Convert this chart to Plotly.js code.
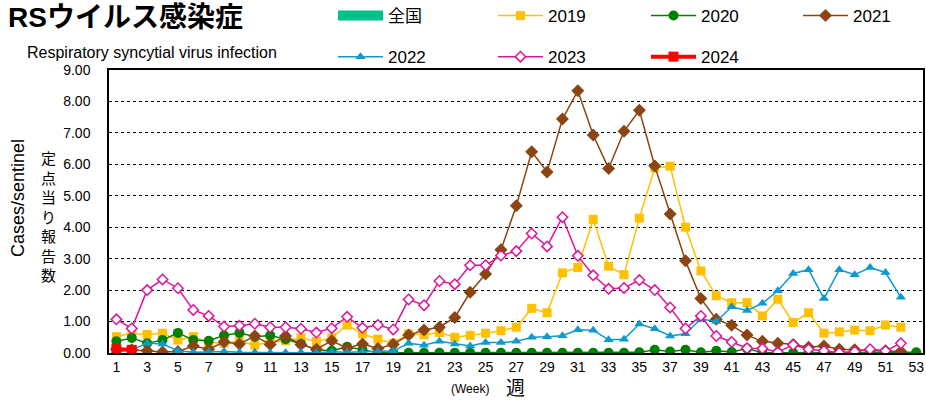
<!DOCTYPE html>
<html>
<head>
<meta charset="utf-8">
<script src="https://cdn.plot.ly/plotly-3.0.1.min.js"></script>
<style>
  html, body { margin: 0; padding: 0; background: #fff; }
  #chart { width: 926px; height: 403px; }
</style>
</head>
<body>
<div id="chart"></div>
<script>
// weekly cases per sentinel
const weeks = Array.from({length: 53}, (_, i) => i + 1);
const tickWeeks = [1, 3, 5, 7, 9, 11, 13, 15, 17, 19, 21, 23, 25, 27, 29, 31, 33, 35, 37, 39, 41, 43, 45, 47, 49, 51, 53];

const y2019 = [0.52, 0.63, 0.59, 0.63, 0.41, 0.52, 0.33, 0.31, 0.37, 0.25,
               0.35, 0.39, 0.48, 0.37, 0.48, 0.89, 0.61, 0.44, 0.31, 0.61,
               0.58, 0.65, 0.50, 0.56, 0.63, 0.71, 0.82, 1.42, 1.28, 2.55,
               2.72, 4.25, 2.76, 2.49, 4.29, 5.89, 5.94, 4.00, 2.61, 1.82,
               1.60, 1.60, 1.18, 1.71, 0.97, 1.28, 0.63, 0.67, 0.73, 0.71, 0.89, 0.82];
const y2020 = [0.37, 0.48, 0.31, 0.41, 0.64, 0.41, 0.39, 0.56, 0.64, 0.52,
               0.56, 0.44, 0.29, 0.10, 0.07, 0.20, 0.10, 0.01, 0.01, 0.01,
               0.01, 0.01, 0.01, 0.01, 0.01, 0.01, 0.01, 0.01, 0.01, 0.01,
               0.01, 0.01, 0.01, 0.01, 0.02, 0.10, 0.05, 0.10, 0.02, 0.07,
               0.03, 0.14, 0.01, 0.01, 0.01, 0.01, 0.01, 0.01, 0.01, 0.01, 0.01, 0.01, 0.02];
const y2021 = [0.12, 0.10, 0.07, 0.03, 0.05, 0.22, 0.12, 0.35, 0.29, 0.54,
               0.27, 0.54, 0.27, 0.12, 0.39, 0.15, 0.29, 0.14, 0.28, 0.57,
               0.73, 0.82, 1.13, 1.93, 2.51, 3.28, 4.68, 6.40, 5.76, 7.44,
               8.34, 6.93, 5.87, 7.05, 7.72, 5.95, 4.42, 2.93, 1.73, 1.07,
               0.88, 0.57, 0.37, 0.31, 0.27, 0.18, 0.22, 0.12, 0.10, 0.09, 0.07, 0.05];
const y2022 = [0.04, 0.10, 0.31, 0.29, 0.07, 0.02, 0.03, 0.05, 0.02, 0.02,
               0.01, 0.01, 0.02, 0.01, 0.04, 0.02, 0.04, 0.04, 0.06, 0.31,
               0.25, 0.37, 0.29, 0.22, 0.33, 0.33, 0.37, 0.50, 0.52, 0.55,
               0.74, 0.72, 0.42, 0.44, 0.92, 0.77, 0.54, 0.61, 1.08, 1.00,
               1.47, 1.35, 1.58, 1.98, 2.53, 2.65, 1.73, 2.65, 2.49, 2.72, 2.56, 1.77];
const y2023 = [1.07, 0.78, 2.00, 2.34, 2.06, 1.37, 1.18, 0.84, 0.87, 0.93,
               0.82, 0.82, 0.77, 0.65, 0.79, 1.15, 0.80, 0.89, 0.75, 1.70,
               1.52, 2.29, 2.19, 2.79, 2.79, 3.10, 3.24, 3.80, 3.39, 4.32,
               3.09, 2.47, 2.04, 2.07, 2.32, 2.00, 1.45, 0.78, 1.18, 0.54,
               0.35, 0.15, 0.14, 0.03, 0.26, 0.12, 0.07, 0.01, 0.05, 0.12, 0.07, 0.31];
const y2024 = [0.12, 0.10];
const yNational = [null];

const FONT = 'Liberation Sans, Arial, Noto Sans CJK JP, sans-serif';
const JP = 'Noto Sans CJK JP, sans-serif';

// legend is laid out as 4 columns of up to 2 rows
function series(name, y, color, symbol, legend, opts = {}) {
    return {
        x: weeks.slice(0, y.length),
        y: y,
        name: name,
        type: 'scatter',
        mode: 'lines+markers',
        line: { color: color, width: opts.width || 1.5 },
        marker: {
            symbol: symbol,
            size: opts.size || 9,
            color: opts.fill || color,
            line: { color: color, width: opts.mlw || 0 }
        },
        legend: legend,
        legendgroup: name
    };
}

const traces = [
    {
        x: [null], y: yNational, name: '全国', type: 'scatter', mode: 'lines',
        line: { color: '#00C08B', width: 10 }, legend: 'legend', legendgroup: 'nat'
    },
    series('2019', y2019, '#FFC000', 'square', 'legend2'),
    series('2020', y2020, '#008000', 'circle', 'legend3', { size: 10 }),
    series('2021', y2021, '#8B4513', 'diamond', 'legend4', { size: 10 }),
    series('2022', y2022, '#0E9AD0', 'triangle-up', 'legend'),
    series('2023', y2023, '#E0139B', 'diamond', 'legend2', { fill: '#ffffff', mlw: 1.5, size: 8 }),
    series('2024', y2024, '#FF0000', 'square', 'legend3', { width: 4, size: 10 })
];

const margin = { l: 109, r: 3, t: 70, b: 50, autoexpand: false };
const plotW = 926 - margin.l - margin.r;
const plotH = 403 - margin.t - margin.b;
// pixel -> paper helpers
const px = v => (v - margin.l) / plotW;
const py = v => (403 - margin.b - v) / plotH;

const legendBase = {
    orientation: 'v',
    xanchor: 'left', yanchor: 'top',
    y: py(-2),
    itemwidth: 45,
    font: { family: FONT, size: 17, color: '#000' },
    bgcolor: 'rgba(0,0,0,0)',
    tracegroupgap: 16
};

const annotations = [
    { text: '<b>RSウイルス感染症</b>', x: 6, y: 17, xanchor: 'left',
      font: { size: 28, family: FONT } },
    { text: 'Respiratory syncytial virus infection', x: 25, y: 52, xanchor: 'left',
      font: { size: 16 } },
    { text: 'Cases/sentinel', x: 18, y: 198, textangle: -90, font: { size: 18 } },
    // vertical Japanese axis label, one character per line
    { text: '定点当り報告数'.split('').join('<br>'), x: 48, y: 216,
      font: { size: 15, family: JP } },
    { text: '(Week)', x: 470, y: 389, font: { size: 12 } },
    { text: '週', x: 515, y: 386, font: { size: 19, family: JP } }
];

const layout = {
    width: 926,
    height: 403,
    margin: margin,
    paper_bgcolor: 'white',
    plot_bgcolor: 'white',
    font: { family: FONT, color: '#000' },
    showlegend: true,
    legend: Object.assign({}, legendBase, { x: px(333) }),
    legend2: Object.assign({}, legendBase, { x: px(493) }),
    legend3: Object.assign({}, legendBase, { x: px(646) }),
    legend4: Object.assign({}, legendBase, { x: px(798) }),
    xaxis: {
        range: [0.52, 53.44],
        tickvals: tickWeeks,
        ticktext: tickWeeks.map(String),
        tickfont: { size: 14 },
        showgrid: false,
        zeroline: false,
        showline: true, linecolor: '#000', linewidth: 1.5, mirror: true,
        ticks: ''
    },
    yaxis: {
        range: [0, 9],
        dtick: 1,
        tickformat: '.2f',
        tickfont: { size: 14 },
        showgrid: true, gridcolor: '#000', griddash: 'dot', gridwidth: 1,
        zeroline: false,
        showline: true, linecolor: '#000', linewidth: 1.5, mirror: true,
        ticks: '', ticklabelstandoff: 14
    },
    annotations: annotations.map(a => Object.assign({
        xref: 'paper', yref: 'paper', xanchor: 'center', yanchor: 'middle', showarrow: false
    }, a, { x: px(a.x), y: py(a.y) }))
};

Plotly.newPlot('chart', traces, layout, { displayModeBar: false, responsive: false });
</script>
</body>
</html>
